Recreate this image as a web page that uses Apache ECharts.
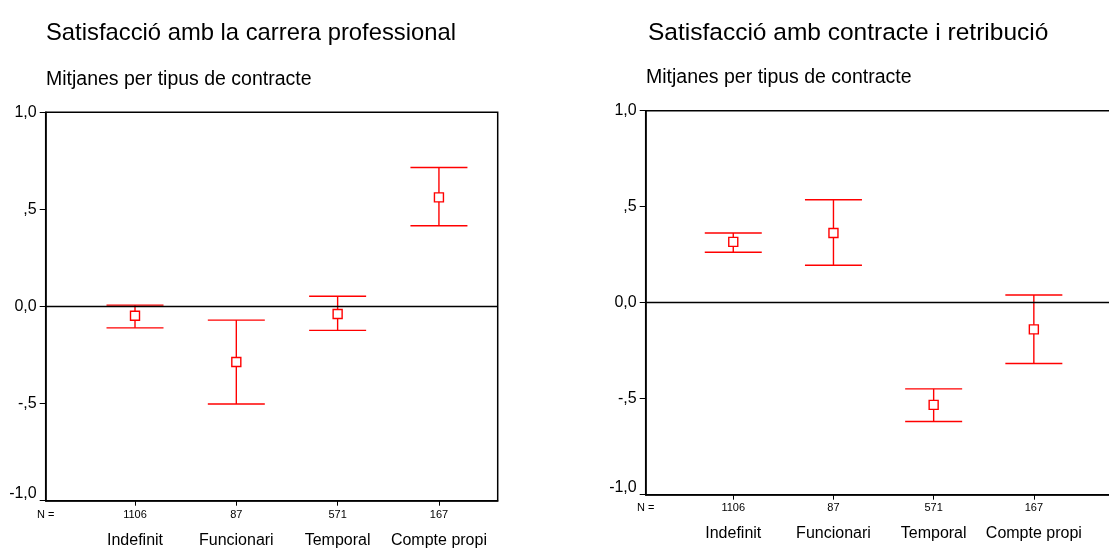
<!DOCTYPE html>
<html>
<head>
<meta charset="utf-8">
<script src="https://cdn.jsdelivr.net/npm/echarts@6/dist/echarts.min.js"></script>
<style>
html,body{margin:0;padding:0;background:#fff;overflow:hidden;}
#chart{width:1124px;height:558px;}
</style>
</head>
<body>
<div id="chart"></div>
<script>
// ---- data ----
var categories = ['Indefinit', 'Funcionari', 'Temporal', 'Compte propi'];
var nCounts = ['1106', '87', '571', '167'];
var yTickLabels = {'1': '1,0', '0.5': ',5', '0': '0,0', '-0.5': '-,5', '-1': '-1,0'};

var careerMean = [-0.048, -0.286, -0.039, 0.562];
var careerLow  = [-0.110, -0.502, -0.123, 0.416];
var careerHigh = [ 0.007, -0.070,  0.053, 0.716];

var payMean = [ 0.317,  0.363, -0.532, -0.139];
var payLow  = [ 0.263,  0.195, -0.619, -0.317];
var payHigh = [ 0.363,  0.536, -0.449,  0.040];

var titleCareer = 'Satisfacció amb la carrera professional';
var titlePay = 'Satisfacció amb contracte i retribució';
var subTitle = 'Mitjanes per tipus de contracte';

// ---- build ----
var FONT = "'Liberation Sans', Arial, sans-serif";
var RED = '#ff0000';

function rows(mean, low, high) {
  return categories.map(function (c, i) { return [i + 1, low[i], high[i], mean[i]]; });
}

function renderErr(params, api) {
  var x = api.value(0);
  var pLow = api.coord([x, api.value(1)]);
  var pHigh = api.coord([x, api.value(2)]);
  var pMean = api.coord([x, api.value(3)]);
  var hw = 28.5, s = 4.5;
  var ls = {stroke: RED, lineWidth: 1.4, fill: null};
  return {
    type: 'group',
    children: [
      {type: 'line', shape: {x1: pHigh[0], y1: pHigh[1], x2: pLow[0], y2: pLow[1]}, style: ls},
      {type: 'line', shape: {x1: pHigh[0] - hw, y1: pHigh[1], x2: pHigh[0] + hw, y2: pHigh[1]}, style: ls},
      {type: 'line', shape: {x1: pLow[0] - hw, y1: pLow[1], x2: pLow[0] + hw, y2: pLow[1]}, style: ls},
      {type: 'rect', shape: {x: pMean[0] - s, y: pMean[1] - s, width: 2 * s, height: 2 * s},
       style: {stroke: RED, lineWidth: 1.4, fill: '#fff'}}
    ]
  };
}

function xAxisCfg(idx, min, max, margin) {
  return {
    type: 'value', gridIndex: idx, min: min, max: max,
    splitLine: {show: false},
    axisLine: {show: true, onZero: false, lineStyle: {color: '#000', width: 1.5}},
    axisTick: {show: true, customValues: [1, 2, 3, 4], length: 5, lineStyle: {color: '#000', width: 1}},
    axisLabel: {
      show: true, customValues: [min, 1, 2, 3, 4], margin: margin,
      verticalAlign: 'top',
      formatter: function (v) {
        var i = Math.round(v);
        if (i < 1) return '{n|N =}';
        return '{n|' + nCounts[i - 1] + '}\n{c|' + categories[i - 1] + '}';
      },
      rich: {
        n: {fontSize: 11, lineHeight: 16, fontFamily: FONT, color: '#000'},
        c: {fontSize: 16, lineHeight: 35, fontFamily: FONT, color: '#000'}
      }
    }
  };
}

function yAxisCfg(idx) {
  return {
    type: 'value', gridIndex: idx, min: -1, max: 1, interval: 0.5,
    splitLine: {show: false},
    axisLine: {show: true, lineStyle: {color: '#000', width: 1.5}},
    axisTick: {show: true, length: 6, lineStyle: {color: '#000', width: 1}},
    axisLabel: {
      margin: 9, fontSize: 16, fontFamily: FONT, color: '#000',
      formatter: function (v) {
        var t = yTickLabels[String(v)];
        return v === -1 ? '{b|' + t + '}' : '{a|' + t + '}';
      },
      rich: {
        a: {fontSize: 16, fontFamily: FONT, color: '#000'},
        b: {fontSize: 16, fontFamily: FONT, color: '#000', padding: [0, 0, 15, 0]}
      }
    }
  };
}

function zeroLine() {
  return {
    silent: true, symbol: 'none', animation: false,
    label: {show: false},
    lineStyle: {color: '#000', width: 1.3, type: 'solid'},
    data: [{yAxis: 0}]
  };
}

function txt(x, y, text, size, family) {
  return {
    type: 'text', x: x, y: y, silent: true,
    style: {text: text, fontSize: size, fontFamily: family || FONT, fill: '#000',
            align: 'left', verticalAlign: 'middle'}
  };
}

var chart = echarts.init(document.getElementById('chart'), null, {renderer: 'canvas'});
chart.setOption({
  animation: false,
  backgroundColor: '#fff',
  grid: [
    {left: 45.7, top: 112.3, width: 452, height: 388.4, show: true, borderColor: '#000', borderWidth: 1.5, containLabel: false},
    {left: 645.7, top: 110.7, width: 469, height: 384, show: true, borderColor: '#000', borderWidth: 1.5, containLabel: false}
  ],
  xAxis: [xAxisCfg(0, 0.1185, 4.58, 6.3), xAxisCfg(1, 0.126, 4.807, 5.3)],
  yAxis: [yAxisCfg(0), yAxisCfg(1)],
  series: [
    {type: 'custom', xAxisIndex: 0, yAxisIndex: 0, renderItem: renderErr,
     data: rows(careerMean, careerLow, careerHigh), markLine: zeroLine(), z: 3},
    {type: 'custom', xAxisIndex: 1, yAxisIndex: 1, renderItem: renderErr,
     data: rows(payMean, payLow, payHigh), markLine: zeroLine(), z: 3}
  ],
  graphic: [
    txt(46, 33, titleCareer, 23.8),
    txt(46, 80, subTitle, 19.5),
    txt(648, 33, titlePay, 24.5),
    txt(646, 78, subTitle, 19.5),
    {type: 'text', x: 561, y: 557, silent: true,
     style: {text: 'et', fontSize: 28, fontFamily: "'Liberation Serif', 'Times New Roman', serif",
             fill: '#000', align: 'left', verticalAlign: 'alphabetic'}}
  ]
});
</script>
</body>
</html>
